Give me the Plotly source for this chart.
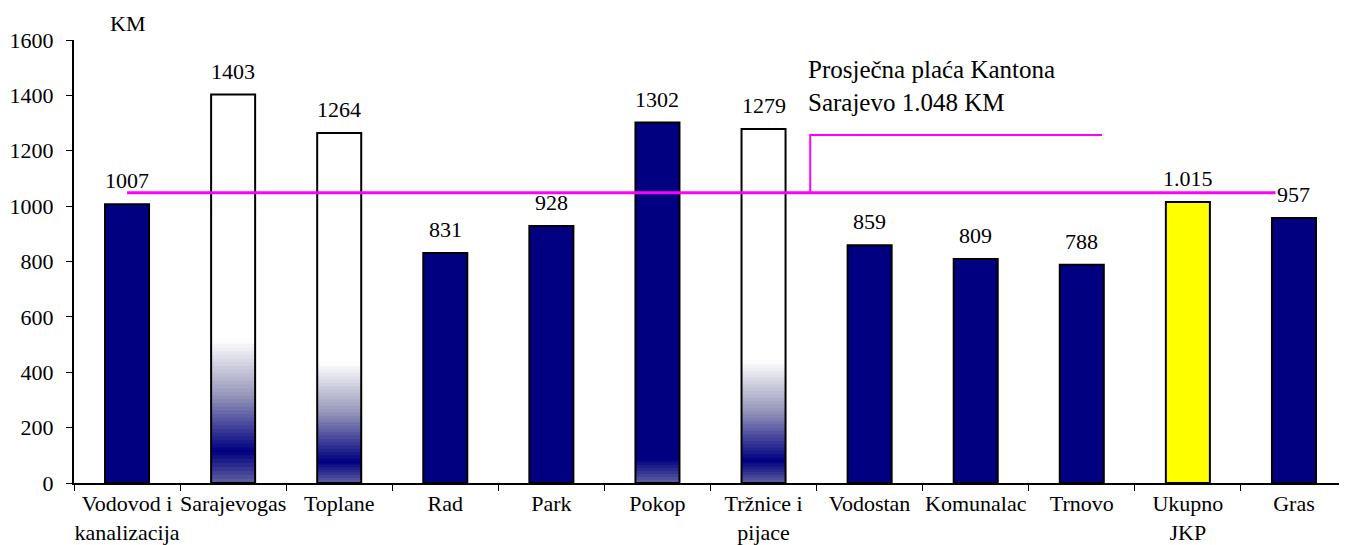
import plotly.graph_objects as go

# ---------------- data ----------------
categories = ["Vodovod i kanalizacija", "Sarajevogas", "Toplane", "Rad", "Park", "Pokop",
              "Tržnice i pijace", "Vodostan", "Komunalac", "Trnovo", "Ukupno JKP", "Gras"]
tick_labels = ["Vodovod i<br>kanalizacija", "Sarajevogas", "Toplane", "Rad", "Park", "Pokop",
               "Tržnice i<br>pijace", "Vodostan", "Komunalac", "Trnovo", "Ukupno<br>JKP", "Gras"]
values = [1007, 1403, 1264, 831, 928, 1302, 1279, 859, 809, 788, 1015, 957]
value_labels = ["1007", "1403", "1264", "831", "928", "1302", "1279", "859", "809", "788", "1.015", "957"]
average = 1048
average_text = "Prosječna plaća Kantona<br>Sarajevo 1.048 KM"
y_ticks = [0, 200, 400, 600, 800, 1000, 1200, 1400, 1600]

# ---------------- style ----------------
NAVY = (0, 0, 128)
MIDGRAY = (150, 150, 186)
WHITE = (255, 255, 255)
BOTTOM = (96, 96, 160)
fill_colors = ["#000080", "#FFFFFF", "#FFFFFF", "#000080", "#000080", "#000080",
               "#FFFFFF", "#000080", "#000080", "#000080", "#FFFF00", "#000080"]
# index -> (fade_top, navy_level) for bars with a faded lower part
fade_style = {1: (516, 115), 2: (433, 76), 6: (440, 80)}
# index -> navy_level for the lighter bottom band
band_style = {1: 115, 2: 76, 5: 87, 6: 80}
BAR_W = 0.415
FONT = "Liberation Serif"


def mix(a, b, t):
    return "rgb(%d,%d,%d)" % tuple(round(a[i] + (b[i] - a[i]) * t) for i in range(3))


def fade(t):
    return mix(NAVY, MIDGRAY, t * 2) if t < 0.5 else mix(MIDGRAY, WHITE, (t - 0.5) * 2)


gx, gbase, gh, gc = [], [], [], []
N = 30
for i, (top, lvl) in fade_style.items():
    step = (top - lvl) / N
    for k in range(N):
        lo = lvl + step * k
        gx.append(categories[i]); gbase.append(lo); gh.append(step * 1.6)
        gc.append(fade((k + 0.5) / N))
M = 8
for i, lvl in band_style.items():
    step = lvl / M
    for k in range(M):
        lo = step * k
        gx.append(categories[i]); gbase.append(lo); gh.append(step * 1.5)
        gc.append(mix(BOTTOM, NAVY, (k + 0.5) / M))
    gx.append(categories[i]); gbase.append(lvl - 3); gh.append(6); gc.append("rgb(0,0,128)")

fig = go.Figure()
fig.add_trace(go.Bar(x=categories, y=values, width=BAR_W,
                     marker=dict(color=fill_colors, line=dict(width=0)), hoverinfo="skip"))
fig.add_trace(go.Bar(x=gx, y=gh, base=gbase, width=BAR_W,
                     marker=dict(color=gc, line=dict(width=0)), hoverinfo="skip"))
fig.add_trace(go.Bar(x=categories, y=values, width=BAR_W,
                     marker=dict(color="rgba(0,0,0,0)", line=dict(color="black", width=2))))
fig.add_trace(go.Scatter(x=[categories[0], categories[-1]], y=[average, average], mode="lines",
                         line=dict(color="#FF00FF", width=3), hoverinfo="skip"))

for c, v, t in zip(categories, values, value_labels):
    fig.add_annotation(x=c, y=v, text=t, showarrow=False, yanchor="bottom", yshift=9,
                       font=dict(family=FONT, size=22, color="black"),
                       bgcolor="white" if t == "957" else None)

# leader line to the average label
fig.add_shape(type="path", xref="x", yref="y",
              path="M 6.44,%d L 6.44,1257 L 9.19,1257" % average,
              line=dict(color="#FF00FF", width=2))
fig.add_annotation(xref="paper", yref="paper", x=0.575, y=0.896, xanchor="left", yanchor="middle",
                   text=average_text, showarrow=False, align="left",
                   font=dict(family=FONT, size=25, color="black"))
fig.add_annotation(xref="paper", yref="paper", x=0.0424, y=1.038, xanchor="center", yanchor="middle",
                   text="KM", showarrow=False, font=dict(family=FONT, size=22, color="black"))

# the page body has an 8px margin, so the figure is 8px smaller than the window
fig.update_layout(
    width=1339, height=537, barmode="overlay", showlegend=False,
    margin=dict(l=66, r=0, t=32, b=62, autoexpand=False),
    plot_bgcolor="white", paper_bgcolor="white",
    font=dict(family=FONT, size=22, color="black"),
    xaxis=dict(categoryorder="array", categoryarray=categories,
               tickmode="array", tickvals=categories, ticktext=tick_labels, tickangle=0,
               tickson="boundaries", ticks="outside", ticklen=6, tickwidth=1, tickcolor="black",
               showline=True, linecolor="black", linewidth=2, showgrid=False, automargin=False,
               range=[-0.5, 11.5], tickfont=dict(family=FONT, size=22)),
    yaxis=dict(range=[0, 1600], tickvals=y_ticks, ticks="outside", ticklen=6, tickcolor="black",
               showline=True, linecolor="black", linewidth=2, showgrid=False, zeroline=False,
               automargin=False, ticklabelstandoff=8, tickfont=dict(family=FONT, size=22)),
)

fig.write_html("out.html")
